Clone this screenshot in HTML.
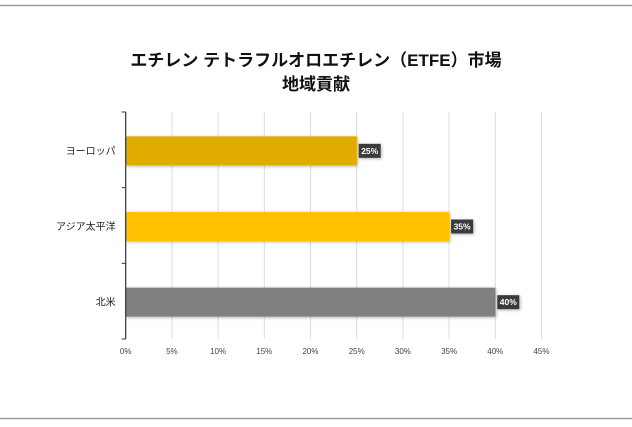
<!DOCTYPE html>
<html><head><meta charset="utf-8"><style>
html,body{margin:0;padding:0;background:#fff;}
svg{display:block;font-family:"Liberation Sans","Noto Sans CJK JP",sans-serif;}
</style></head><body>
<svg id="chart" width="632" height="427" viewBox="0 0 632 427">
<defs><filter id="sh" x="-10%" y="-30%" width="130%" height="160%"><feDropShadow dx="1" dy="1" stdDeviation="1.5" flood-color="#000" flood-opacity="0.3"/></filter></defs>
<line x1="0" y1="5.5" x2="632" y2="5.5" stroke="#999" stroke-width="1.5"/>
<line x1="0" y1="418.5" x2="632" y2="418.5" stroke="#999" stroke-width="1.5"/>
<text x="316" y="66" text-anchor="middle" font-size="17" font-weight="bold" fill="#111">エチレン テトラフルオロエチレン（ETFE）市場</text>
<text x="316" y="90" text-anchor="middle" font-size="17" font-weight="bold" fill="#111">地域貢献</text>
<g id="grid"></g><g id="bars"></g><g id="axes"></g>
</svg>
<script>
const categories = ["ヨーロッパ", "アジア太平洋", "北米"];
const values = [25, 35, 40];
const colors = ["#e0ac00", "#ffc000", "#808080"];
const ticks = [0, 5, 10, 15, 20, 25, 30, 35, 40, 45];
const NS = "http://www.w3.org/2000/svg";
const x0 = 125.7, pxPer = 9.24, yTop = 112, yBot = 339;
const band = (yBot - yTop) / categories.length;
function xs(v){ return x0 + v * pxPer; }
function mk(tag, attrs, parent){ const e = document.createElementNS(NS, tag); for (const k in attrs) e.setAttribute(k, attrs[k]); parent.appendChild(e); return e; }
const grid = document.getElementById('grid'), bars = document.getElementById('bars'), axes = document.getElementById('axes');
ticks.forEach(t => {
  if (t > 0) {
    const l = mk('line', {x1: xs(t), x2: xs(t), y1: yTop, y2: yBot, stroke: '#dcdcdc', 'stroke-width': 1}, grid);
    
    
  }
  const tx = mk('text', {x: xs(t), y: 354, 'text-anchor': 'middle', 'font-size': 8, fill: '#444'}, axes);
  tx.textContent = t + '%';
  
  
});
const ax = mk('line', {x1: x0, x2: x0, y1: yTop, y2: yBot, stroke: '#333', 'stroke-width': 1.2}, axes);


for (let i = 0; i <= categories.length; i++) {
  const y = yTop + i * band;
  const tk = mk('line', {x1: x0 - 4, x2: x0, y1: y, y2: y, stroke: '#333', 'stroke-width': 1}, axes);
  
  
}
categories.forEach((c, i) => {
  const cy = yTop + band * (i + 0.5) + 1;
  const bh = 29;
  const r = mk('rect', {x: x0, y: cy - bh / 2, width: xs(values[i]) - x0, height: bh, fill: colors[i], filter: 'url(#sh)'}, bars);
  
  
  const lab = mk('text', {x: x0 - 10, y: cy + 3.5, 'text-anchor': 'end', 'font-size': 10, fill: '#222'}, axes);
  lab.textContent = c;
  
  
  const bx = xs(values[i]) + 2;
  const box = mk('rect', {x: bx, y: cy - 7, width: 22, height: 14, fill: '#3a3a3a', filter: 'url(#sh)'}, bars);
  
  
  const vt = mk('text', {x: bx + 11, y: cy + 3, 'text-anchor': 'middle', 'font-size': 8.5, 'font-weight': 'bold', fill: '#fff'}, bars);
  vt.textContent = values[i] + '%';
  
  
});
</script>
</body></html>
